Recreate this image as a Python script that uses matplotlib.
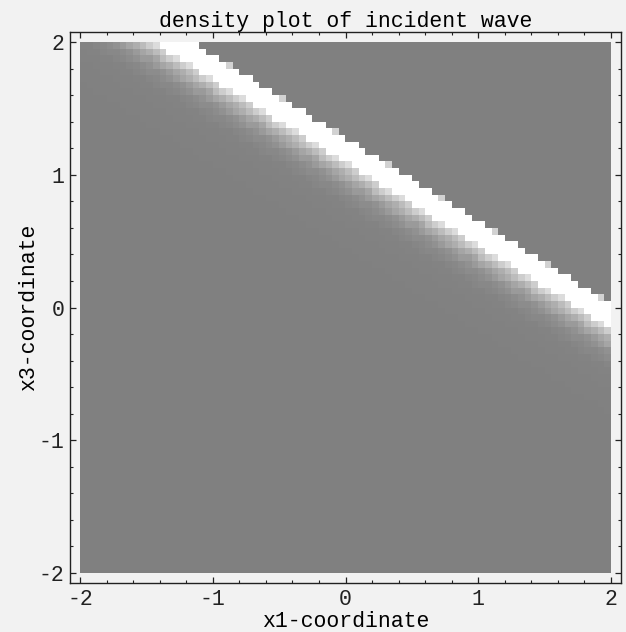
import numpy as np
import matplotlib
matplotlib.use('Agg')
import matplotlib.pyplot as plt
from matplotlib.ticker import MultipleLocator

# Wellenfront: Normale (sin 32 Grad, cos 32 Grad), Lage der Front
normal = [0.530, 0.848]
front_pos = 1.08
n_cells = 80

# Helligkeitsprofil hinter der Front (Abstand d -> Grauwert 0..255)
profile_edges = [-0.008, 0.0, 0.15, 0.17, 0.195, 0.22, 0.245, 0.27, 0.30,
                 0.33, 0.36, 0.39, 0.42, 0.47, 0.55, 0.70]
profile_levels = [128, 210, 255, 220, 205, 188, 174, 165, 154,
                  145, 140, 136, 134, 132, 130, 129, 128]

ticks = [-2, -1, 0, 1, 2]

bg = '#f2f2f2'
plt.rcParams['font.family'] = ['Liberation Mono', 'DejaVu Sans Mono']
plt.rcParams['axes.unicode_minus'] = False

# Gitter der Zellen (Zellmitten)
edges = np.linspace(-2, 2, n_cells + 1)
centers = (edges[:-1] + edges[1:]) / 2
X1, X3 = np.meshgrid(centers, centers)
d = front_pos - (normal[0] * X1 + normal[1] * X3)
idx = np.digitize(d, profile_edges)
grid = np.array(profile_levels)[idx]

fig = plt.figure(figsize=(6.26, 6.32), dpi=100, facecolor=bg)
ax = fig.add_axes([70 / 626, 49 / 632, 551 / 626, 551 / 632])
ax.set_facecolor(bg)

ax.imshow(grid, cmap='gray', vmin=0, vmax=255, origin='lower',
          extent=[-2, 2, -2, 2], interpolation='nearest', aspect='auto')

pad = 4 * 10 / 531
ax.set_xlim(-2 - pad, 2 + pad)
ax.set_ylim(-2 - pad, 2 + pad)

ax.set_xticks(ticks)
ax.set_yticks(ticks)
ax.xaxis.set_minor_locator(MultipleLocator(0.2))
ax.yaxis.set_minor_locator(MultipleLocator(0.2))
ax.tick_params(which='both', direction='in', top=True, right=True,
               labeltop=False, labelright=False, labelsize=15.5, colors='#222222')
ax.tick_params(which='major', length=4, width=0.9, pad=4)
ax.tick_params(which='minor', length=2.2, width=0.8)
for s in ax.spines.values():
    s.set_color('#222222')
    s.set_linewidth(1.0)

ax.set_xlabel('x1-coordinate', fontsize=15.5, labelpad=1)
ax.set_ylabel('x3-coordinate', fontsize=15.5, labelpad=0)
ax.set_title('density plot of incident wave', fontsize=15.5, pad=3)

fig.savefig('out.png', dpi=100, facecolor=bg)
